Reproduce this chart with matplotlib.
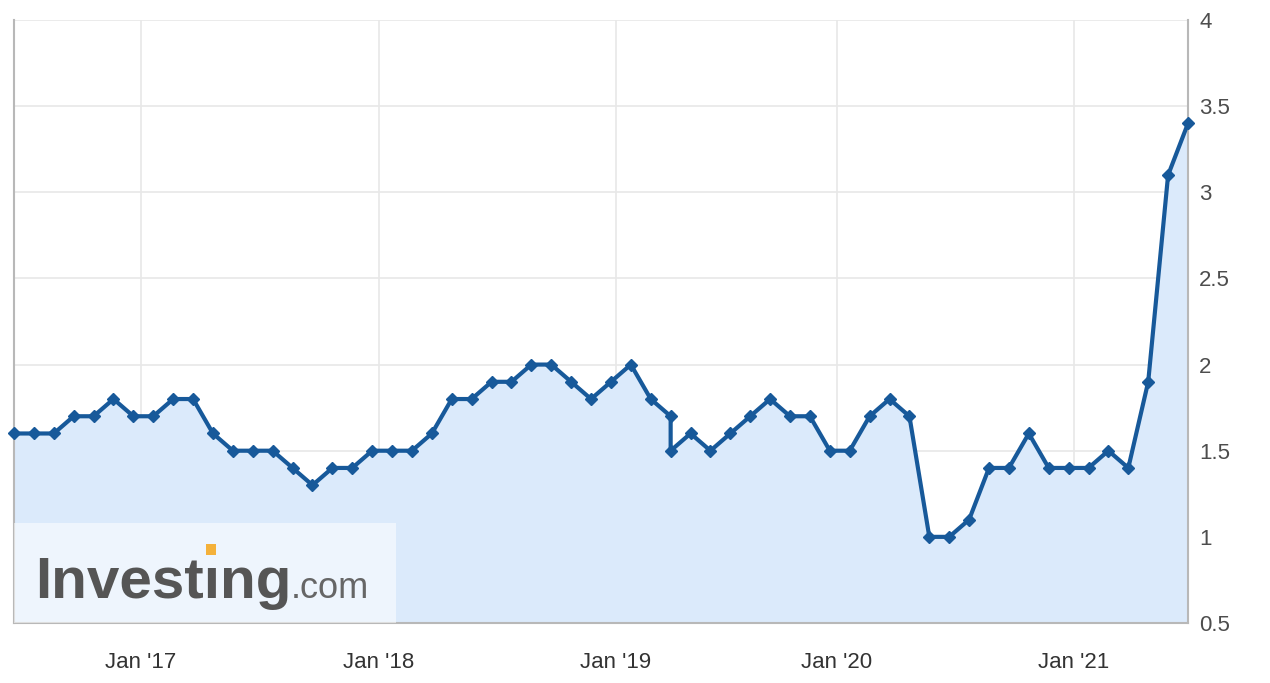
import matplotlib
matplotlib.use("Agg")
import matplotlib.pyplot as plt
from matplotlib.patches import Rectangle

# Data: monthly readings (Highcharts-style ordinal axis, one slot per release)
VALUES = [1.6, 1.6, 1.6, 1.7, 1.7, 1.8, 1.7, 1.7, 1.8, 1.8,
          1.6, 1.5, 1.5, 1.5, 1.4, 1.3, 1.4, 1.4, 1.5, 1.5,
          1.5, 1.6, 1.8, 1.8, 1.9, 1.9, 2.0, 2.0, 1.9, 1.8,
          1.9, 2.0, 1.8, 1.7, 1.5, 1.6, 1.5, 1.6, 1.7, 1.8,
          1.7, 1.7, 1.5, 1.5, 1.7, 1.8, 1.7, 1.0, 1.0, 1.1,
          1.4, 1.4, 1.6, 1.4, 1.4, 1.4, 1.5, 1.4, 1.9, 3.1, 3.4]
# slot 33 holds two releases (the vertical drop)
SLOTS = list(range(34)) + [33] + list(range(34, 60))

TICK_POS = [6.38, 18.34, 30.25, 41.36, 53.27]
TICK_LABELS = ["Jan '17", "Jan '18", "Jan '19", "Jan '20", "Jan '21"]
Y_TICKS = [0.5, 1, 1.5, 2, 2.5, 3, 3.5, 4]
Y_LABELS = ["0.5", "1", "1.5", "2", "2.5", "3", "3.5", "4"]

LINE_COLOR = "#17599a"
FILL_COLOR = "#dbeafb"
GRID_COLOR = "#e8e8e8"

plt.rcParams['font.family'] = ['Liberation Sans', 'DejaVu Sans']

fig = plt.figure(figsize=(12.7, 6.83), dpi=100)
W, H = 1270, 683
left, right, top, bottom = 14, 1188, 20, 623
ax = fig.add_axes([left / W, 1 - bottom / H, (right - left) / W, (bottom - top) / H])

ax.set_xlim(0, 59)
ax.set_ylim(0.5, 4)

ax.fill_between(SLOTS, VALUES, 0.5, color=FILL_COLOR, zorder=1, linewidth=0)
ax.plot(SLOTS, VALUES, color=LINE_COLOR, linewidth=3, marker='D', markersize=6,
        zorder=3, clip_on=False)

ax.set_yticks(Y_TICKS)
ax.set_yticklabels(Y_LABELS)
ax.set_xticks(TICK_POS)
ax.set_xticklabels(TICK_LABELS)
ax.grid(True, color=GRID_COLOR, linewidth=1.2, zorder=0)
ax.set_axisbelow(True)

ax.yaxis.tick_right()
ax.tick_params(axis='y', length=0, pad=8, labelsize=16, labelcolor="#4d4d4d")
ax.tick_params(axis='x', length=0, pad=21, labelsize=16, labelcolor="#333333")

ax.spines['top'].set_visible(False)
for side in ['left', 'right', 'bottom']:
    ax.spines[side].set_color("#b8b8b8")
    ax.spines[side].set_linewidth(1.5)

# Investing.com watermark
box = Rectangle((left / W, 1 - 623 / H), (396 - left) / W, (623 - 523) / H,
                transform=fig.transFigure, facecolor="white", alpha=0.55,
                edgecolor="none", zorder=5)
fig.patches.append(box)
fig.text(35 / W, 1 - 598 / H, "Invest\u0131ng", fontsize=42, fontweight='bold',
         color="#555555", ha='left', va='baseline', zorder=6)
fig.text(291 / W, 1 - 598 / H, ".com", fontsize=26, color="#666666",
         ha='left', va='baseline', zorder=6)
fig.patches.append(Rectangle((206 / W, 1 - 555 / H), 10 / W, 11 / H,
                             transform=fig.transFigure, facecolor="#f4b13a",
                             edgecolor="none", zorder=7))

fig.savefig("out.png", dpi=100)
